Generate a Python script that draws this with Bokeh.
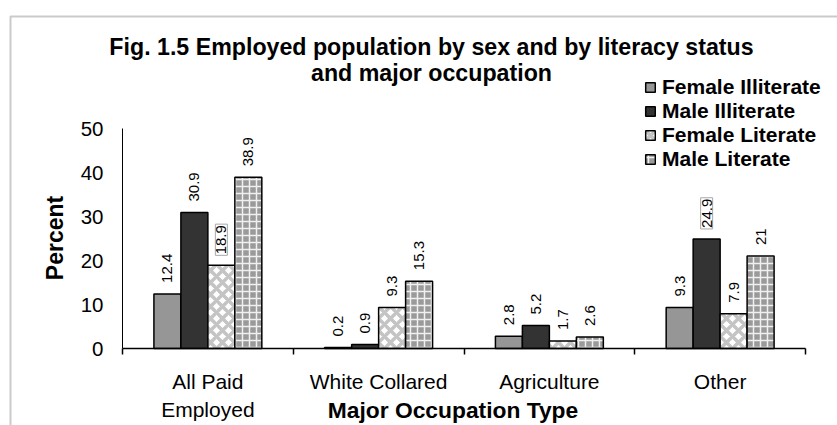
import math
from bokeh.plotting import figure
from bokeh.models import (Range1d, FixedTicker, Label, Legend, LegendItem, LinearAxis,
                          ColumnDataSource, BoxAnnotation)
from bokeh.embed import file_html
from bokeh.resources import INLINE
from bokeh.core.properties import value

# ---------------- data ----------------
categories = ["All Paid Employed", "White Collared", "Agriculture", "Other"]
tick_labels = ["All Paid\nEmployed", "White Collared", "Agriculture", "Other"]
series = ["Female Illiterate", "Male Illiterate", "Female Literate", "Male Literate"]
female_illiterate = [12.4, 0.2, 2.8, 9.3]
male_illiterate = [30.9, 0.9, 5.2, 24.9]
female_literate = [18.9, 9.3, 1.7, 7.9]
male_literate = [38.9, 15.3, 2.6, 21]
y_ticks = [0, 10, 20, 30, 40, 50]
title_line1 = "Fig. 1.5 Employed population by sex and by literacy status"
title_line2 = "and major occupation"
x_title = "Major Occupation Type"
y_title = "Percent"
boxed_labels = [("All Paid Employed", "Female Literate"), ("Other", "Male Illiterate")]

values = [female_illiterate, male_illiterate, female_literate, male_literate]

# ---------------- layout / styles ----------------
FONT = "Liberation Sans"
W, H = 837, 425
PX_L, PX_R, PX_T, PX_B = 122, 805, 128, 348      # pixel box of the value area
YMAX = 50
ncat = len(categories)
xs = (PX_R - PX_L) / ncat           # px per category
ys = (PX_B - PX_T) / YMAX           # px per unit
def dx(px): return (px - PX_L) / xs
def dy(py): return (PX_B - py) / ys
BASE_SHIFT = 8                      # label baseline correction (px)

offsets = [-0.237, -0.079, 0.079, 0.237]
bar_w = 0.158
styles = [
    dict(fill_color="#969696"),
    dict(fill_color="#333333"),
    dict(fill_color="white", hatch_pattern="diagonal_cross", hatch_color="#c4c4c4",
         hatch_weight=3.5, hatch_scale=12),
    dict(fill_color="#9a9a9a", hatch_pattern="cross", hatch_color="#f0f0f0",
         hatch_weight=1.5, hatch_scale=7),
]

p = figure(width=W, height=H, output_backend="svg", toolbar_location=None,
           x_range=Range1d(dx(0), dx(W)), y_range=Range1d(dy(H), dy(0)),
           x_axis_location=None, y_axis_location=None, min_border=0, title=None)
p.outline_line_color = None
p.xgrid.visible = False
p.ygrid.visible = False
p.background_fill_color = "white"
p.border_fill_color = "white"

# chart border (only its top and left edges fall inside the crop)
p.add_layout(BoxAnnotation(left=dx(10), top=dy(16), right=dx(W + 50), bottom=dy(H + 50),
                           fill_alpha=0, line_color="#505050", line_width=2))

centers = [i + 0.5 for i in range(ncat)]

renderers = []
for k, name in enumerate(series):
    src = ColumnDataSource(dict(x=[c + offsets[k] for c in centers], top=values[k],
                                cat=categories))
    r = p.vbar(x="x", top="top", width=bar_w, source=src, line_color="black",
               line_width=1.5, **styles[k])
    renderers.append(r)

# value labels
plain = dict(x=[], y=[], t=[])
boxed = dict(x=[], y=[], t=[])
for k, name in enumerate(series):
    for i, cat in enumerate(categories):
        d = boxed if (cat, name) in boxed_labels else plain
        d["x"].append(centers[i] + offsets[k])
        d["y"].append(values[k][i])
        d["t"].append(f"{values[k][i]:g}")

p.text(x="x", y="y", text="t", source=ColumnDataSource(plain), angle=math.pi / 2,
       text_align="left", text_baseline="middle", y_offset=-11,
       text_font=value(FONT), text_font_size="15px", text_color="black")
p.text(x="x", y="y", text="t", source=ColumnDataSource(boxed), angle=math.pi / 2,
       text_align="left", text_baseline="middle", y_offset=-10,
       text_font=value(FONT), text_font_size="15px", text_color="black",
       background_fill_color="white", border_line_color="#a8a8a8", padding=1)

# axes drawn at fixed locations
xa = LinearAxis(fixed_location=0, bounds=(0, ncat))
xa.ticker = FixedTicker(ticks=centers, minor_ticks=list(range(ncat + 1)))
xa.major_label_overrides = {c: t for c, t in zip(centers, tick_labels)}
xa.major_tick_out = 0
xa.major_tick_in = 0
xa.minor_tick_out = 6
xa.minor_tick_in = 0
xa.minor_tick_line_color = "black"
xa.minor_tick_line_width = 1.5
xa.axis_line_color = "black"
xa.axis_line_width = 1.5
xa.major_label_standoff = 15
xa.major_label_text_font = FONT
xa.major_label_text_font_size = "21px"
xa.major_label_text_color = "black"
xa.major_label_text_line_height = 1.22
p.add_layout(xa, "below")

ya = LinearAxis(fixed_location=0, bounds=(0, YMAX))
ya.ticker = FixedTicker(ticks=y_ticks)
ya.major_tick_out = 0
ya.major_tick_in = 0
ya.minor_tick_out = 0
ya.minor_tick_in = 0
ya.axis_line_color = "black"
ya.axis_line_width = 1
ya.major_label_standoff = 19
ya.major_label_text_font = FONT
ya.major_label_text_font_size = "20.5px"
ya.major_label_text_color = "black"
p.add_layout(ya, "left")

# titles
for txt, py in [(title_line1, 54), (title_line2, 80)]:
    p.add_layout(Label(x=dx(431), y=dy(py - BASE_SHIFT), text=txt,
                       text_align="center", text_baseline="alphabetic",
                       text_font=FONT, text_font_style="bold", text_font_size="23.2px",
                       text_color="black"))
p.add_layout(Label(x=dx(452.5), y=dy(417 - BASE_SHIFT), text=x_title,
                   text_align="center", text_baseline="alphabetic",
                   text_font=FONT, text_font_style="bold", text_font_size="22.8px",
                   text_color="black"))
p.add_layout(Label(x=dx(54), y=dy(237.5), text=y_title, angle=math.pi / 2,
                   text_align="center", text_baseline="middle",
                   text_font=FONT, text_font_style="bold", text_font_size="23px",
                   text_color="black"))

# legend
legend = Legend(items=[LegendItem(label=n, renderers=[r]) for n, r in zip(series, renderers)],
                location=(644, 254), orientation="vertical",
                glyph_width=12, glyph_height=12, label_standoff=6, spacing=0,
                padding=0, margin=0, border_line_alpha=0, background_fill_alpha=0,
                label_text_font=FONT, label_text_font_style="bold",
                label_text_font_size="21px", label_text_color="black")
p.add_layout(legend, "center")

open("out.html", "w").write(file_html(p, INLINE))
